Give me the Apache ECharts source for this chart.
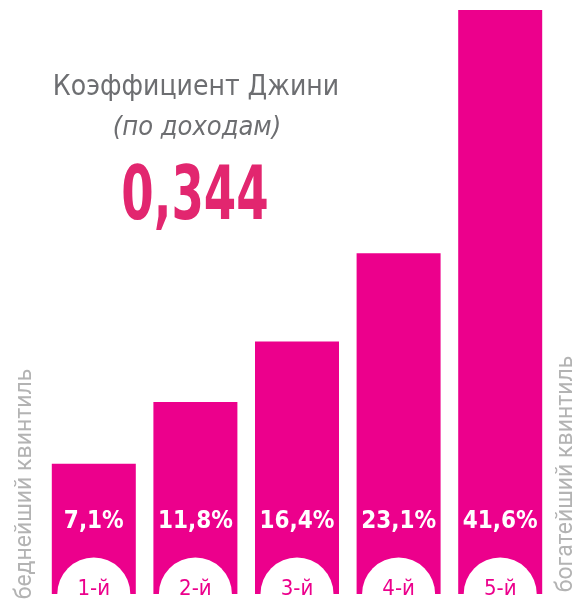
<!DOCTYPE html>
<html>
<head>
<meta charset="utf-8">
<script src="https://cdn.jsdelivr.net/npm/echarts@6/dist/echarts.min.js"></script>
<style>
  html, body { margin: 0; padding: 0; background: #fff; }
  #chart { width: 588px; height: 601px; }
</style>
</head>
<body>
<div id="chart"></div>
<script>
// квинтили и доля доходов, %
const quintiles = ['1-й', '2-й', '3-й', '4-й', '5-й'];
const shares = [7.1, 11.8, 16.4, 23.1, 41.6];
const shareLabels = ['7,1%', '11,8%', '16,4%', '23,1%', '41,6%'];
// столбики в оригинале начинаются чуть ниже нуля
const axisMin = -2.8;
const axisMax = 41.6;

const magenta = '#ec008c';
const narrow = '"DejaVu Sans Condensed", "Liberation Sans Narrow", Roboto, sans-serif';

const chart = echarts.init(document.getElementById('chart'));
const option = {
    animation: false,
    grid: { left: 43, right: 37, top: 10, bottom: 7 },
    xAxis: {
        type: 'category',
        data: quintiles,
        show: false
    },
    yAxis: {
        type: 'value',
        min: axisMin,
        max: axisMax,
        startValue: axisMin,
        show: false
    },
    series: [
        {
            type: 'bar',
            barWidth: 84,
            itemStyle: { color: magenta },
            label: {
                show: true,
                position: 'insideBottom',
                distance: 60,
                color: '#fff',
                fontFamily: narrow,
                fontWeight: 'bold',
                fontSize: 24,
                formatter: p => shareLabels[p.dataIndex]
            },
            data: shares
        },
        {
            type: 'scatter',
            symbol: 'circle',
            symbolSize: 73,
            clip: false,
            z: 5,
            itemStyle: { color: '#fff', opacity: 1 },
            label: {
                show: true,
                position: 'inside',
                offset: [0, -5],
                color: magenta,
                fontFamily: narrow,
                fontSize: 22,
                formatter: p => quintiles[p.dataIndex]
            },
            data: quintiles.map(() => axisMin)
        }
    ],
    graphic: [
        {
            type: 'text',
            style: {
                text: 'Коэффициент Джини', x: 196, y: 88,
                align: 'center', verticalAlign: 'middle',
                fill: '#6d6e71', fontSize: 28, fontFamily: narrow
            }
        },
        {
            type: 'text',
            style: {
                text: '(по доходам)', x: 197, y: 128,
                align: 'center', verticalAlign: 'middle',
                fill: '#6d6e71', fontSize: 27, fontStyle: 'italic', fontFamily: narrow
            }
        },
        {
            type: 'text', x: 195, y: 200, scaleX: 0.7,
            style: {
                text: '0,344', x: 0, y: 0,
                align: 'center', verticalAlign: 'middle',
                fill: '#e2266f', fontSize: 74, fontWeight: 'bold', fontFamily: narrow
            }
        },
        {
            type: 'text', x: 25, y: 484, rotation: Math.PI / 2,
            style: {
                text: 'беднейший квинтиль', x: 0, y: 0,
                align: 'center', verticalAlign: 'middle',
                fill: '#b3b3b3', fontSize: 23, fontFamily: 'Roboto, sans-serif'
            }
        },
        {
            type: 'text', x: 566, y: 474, rotation: Math.PI / 2,
            style: {
                text: 'богатейший квинтиль', x: 0, y: 0,
                align: 'center', verticalAlign: 'middle',
                fill: '#b3b3b3', fontSize: 23, fontFamily: 'Roboto, sans-serif'
            }
        }
    ]
};
chart.setOption(option);
</script>
</body>
</html>
